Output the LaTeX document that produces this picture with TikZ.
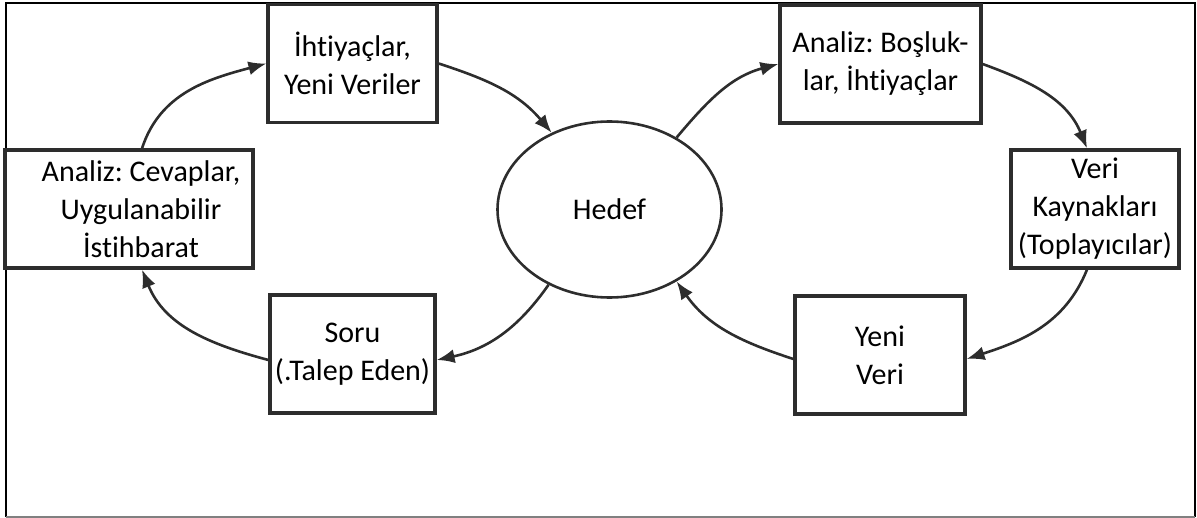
\documentclass[tikz,border=0pt]{standalone}
\usepackage{fontspec}
\setmainfont{Carlito}[Ligatures=NoCommon]
\usepackage{xcolor}
\definecolor{line-dark}{RGB}{45, 45, 45}
\usetikzlibrary{arrows.meta,shapes.geometric,positioning}
\frenchspacing

\begin{document}
\begin{tikzpicture} [ % styles first
    x=0.5pt, y=-0.5pt, >={Latex[length=9pt,width=7pt]},
    box/.style = {shape = rectangle, minimum height = 59pt, align = center, draw = line-dark, line width = 1.6pt, inner sep = 2pt, font = \fontsize{15}{19}\selectfont},
    goal/.style = {shape = ellipse, minimum width = 112pt, minimum height = 88pt, inner sep = 0pt, draw = line-dark, line width = 1.3pt, font = \fontsize{15}{19}\selectfont},
    flow/.style = {->, line width = 1.3pt, draw = line-dark},
    frame/.style = {line width = 1.3pt, draw = black}
]

\useasboundingbox (0,0) rectangle (1197,518);

% outer frame
\draw [frame] (6,517) -- (6,3) -- (1195,3) -- (1195,517);
\draw [gray, line width = 0.8pt] (6,517) -- (1195,517);

% middle
\node [goal] (hedef) at (609.5,209.5){Hedef};

% left loop
\node [box, minimum width = 84.5pt] (ihtiyac) at (352.5,63.5){İhtiyaçlar,\\Yeni Veriler};
\node [box, minimum width = 124pt] (cevap) at (129,209){\hspace*{12pt}Analiz: Cevaplar,\\\hspace*{12pt}Uygulanabilir\\\hspace*{12pt}İstihbarat};
\node [box, minimum width = 82.5pt] (soru) at (352.5,354){Soru\\(.Talep Eden)};

% right loop
\node [box, minimum width = 100.5pt] (bosluk) at (880.5,64){Analiz: Boşluk-\\lar, İhtiyaçlar};
\node [box, minimum width = 84pt] (kaynak) at (1095,209){Veri\\Kaynakları\\(Toplayıcılar)};
\node [box, minimum width = 85pt] (yeniveri) at (880,355){Yeni\\Veri};

% arrows, left loop
\draw [flow] ([xshift=6.5pt]cevap.north) to[out=72, in=195] (ihtiyac.west);
\draw [flow] (ihtiyac.east) to[out=-18, in=130] (hedef.127);
\draw [flow] (hedef.231) to[out=-125, in=12] ([yshift=-3pt]soru.east);
\draw [flow] ([yshift=-3pt]soru.west) to[out=165, in=-68] ([xshift=6.5pt]cevap.south);

% arrows, right loop
\draw [flow] (hedef.47) to[out=50, in=195] (bosluk.west);
\draw [flow] (bosluk.east) to[out=-20, in=112] ([xshift=-4pt]kaynak.north);
\draw [flow] ([xshift=-4pt]kaynak.south) to[out=-112, in=18] ([yshift=-2pt]yeniveri.east);
\draw [flow] ([yshift=-2pt]yeniveri.west) to[out=162, in=-55] (hedef.313);

\end{tikzpicture}
\end{document}
